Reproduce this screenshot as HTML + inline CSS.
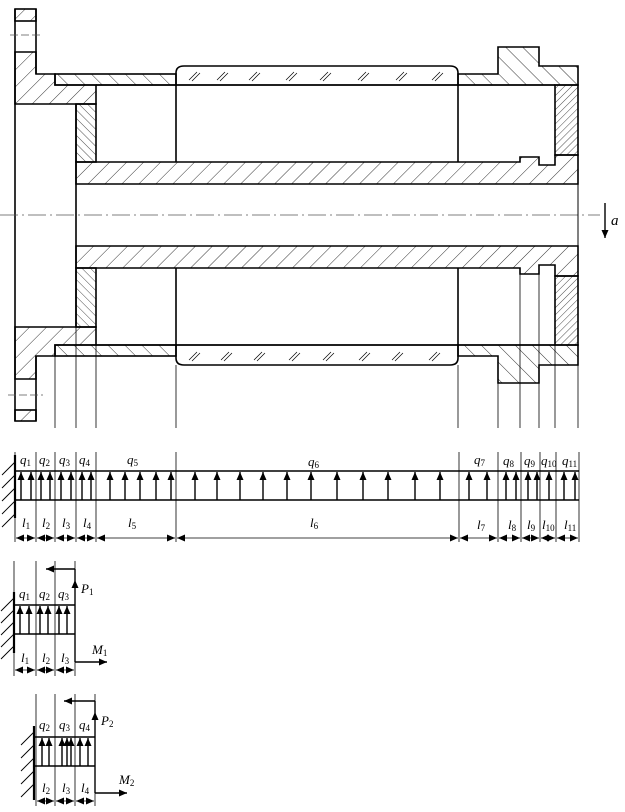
<!DOCTYPE html>
<html><head><meta charset="utf-8"><style>
html,body{margin:0;padding:0;background:#fff}
svg{display:block}
text{font-family:"Liberation Serif",serif;font-style:italic;fill:#000}
tspan.s{font-size:9px;font-style:normal}
</style></head><body>
<svg width="625" height="812" viewBox="0 0 625 812" xmlns="http://www.w3.org/2000/svg">
<defs>
<pattern id="hf" width="12" height="12" patternUnits="userSpaceOnUse" patternTransform="rotate(45)"><line x1="0" y1="0" x2="0" y2="12" stroke="#000" stroke-width="0.8"/></pattern>
<pattern id="hb" width="12" height="12" patternUnits="userSpaceOnUse" patternTransform="rotate(-45)"><line x1="0" y1="0" x2="0" y2="12" stroke="#000" stroke-width="0.8"/></pattern>
<pattern id="hbd" width="6" height="6" patternUnits="userSpaceOnUse" patternTransform="rotate(-45)"><line x1="0" y1="0" x2="0" y2="6" stroke="#000" stroke-width="0.7"/></pattern>
<pattern id="hfd" width="5" height="5" patternUnits="userSpaceOnUse" patternTransform="rotate(45)"><line x1="0" y1="0" x2="0" y2="5" stroke="#000" stroke-width="0.7"/></pattern>
<marker id="ah" markerWidth="10" markerHeight="10" refX="8" refY="4" orient="auto" markerUnits="userSpaceOnUse"><path d="M0,0.5 L8,4 L0,7.5 Z" fill="#000"/></marker>
<marker id="as" markerWidth="10" markerHeight="10" refX="0" refY="4" orient="auto" markerUnits="userSpaceOnUse"><path d="M8,0.5 L0,4 L8,7.5 Z" fill="#000"/></marker>
</defs>

<g stroke="#000" stroke-width="1.6" fill="none">
<rect x="15" y="9" width="21" height="12" fill="url(#hf)"/>
<polygon points="15,52 36,52 36,74 55,74 55,85 96,85 96,104 15,104" fill="url(#hf)"/>
<rect x="55" y="74" width="121" height="11" fill="url(#hb)"/>
<rect x="76" y="104" width="20" height="58" fill="url(#hbd)"/>
<polygon points="15,327 96,327 96,345 55,345 55,356 36,356 36,379 15,379" fill="url(#hf)"/>
<rect x="15" y="410" width="21" height="11" fill="url(#hf)"/>
<rect x="55" y="345" width="121" height="11" fill="url(#hb)"/>
<rect x="76" y="268" width="20" height="59" fill="url(#hbd)"/>
<line x1="15" y1="9" x2="15" y2="421"/>
<line x1="36" y1="9" x2="36" y2="74"/>
<line x1="36" y1="356" x2="36" y2="421"/>
<line x1="76" y1="104" x2="76" y2="327"/>
<polygon points="76,162 520,162 520,157 539,157 539,165 555,165 555,155 578,155 578,184 76,184" fill="url(#hf)"/>
<polygon points="76,246 578,246 578,276 555,276 555,265 539,265 539,274 520,274 520,268 76,268" fill="url(#hf)"/>
<polygon points="458,74 498,74 498,47 539,47 539,66 578,66 578,85 458,85" fill="url(#hb)"/>
<rect x="555" y="85" width="23" height="70" fill="url(#hfd)"/>
<polygon points="458,345 578,345 578,365 539,365 539,383 498,383 498,356 458,356" fill="url(#hb)"/>
<rect x="555" y="276" width="23" height="69" fill="url(#hfd)"/>
<path d="M176,85 L176,73 Q176,66 184,66 L450,66 Q458,66 458,73 L458,85 Z"/>
<path d="M176,345 L176,358 Q176,365 184,365 L450,365 Q458,365 458,358 L458,345 Z"/>
<line x1="176" y1="85" x2="176" y2="162"/>
<line x1="458" y1="85" x2="458" y2="162"/>
<line x1="176" y1="268" x2="176" y2="345"/>
<line x1="458" y1="268" x2="458" y2="345"/>
<line x1="96" y1="85" x2="555" y2="85"/>
<line x1="96" y1="345" x2="555" y2="345"/>
</g>
<g stroke="#000" stroke-width="0.7">
<path d="M189,80 l8,-8 M192,81 l8,-8 M217,80 l8,-8 M220,81 l8,-8 M249,80 l8,-8 M252,81 l8,-8 M286,80 l8,-8 M289,81 l8,-8 M320,80 l8,-8 M323,81 l8,-8 M358,80 l8,-8 M361,81 l8,-8 M396,80 l8,-8 M399,81 l8,-8 M432,80 l8,-8 M435,81 l8,-8"/>
<path d="M189,360 l8,-8 M192,361 l8,-8 M221,360 l8,-8 M224,361 l8,-8 M254,360 l8,-8 M257,361 l8,-8 M289,360 l8,-8 M292,361 l8,-8 M323,360 l8,-8 M326,361 l8,-8 M359,360 l8,-8 M362,361 l8,-8 M392,360 l8,-8 M395,361 l8,-8 M429,360 l8,-8 M432,361 l8,-8"/>
</g>
<g stroke="#555" stroke-width="0.8" fill="none">
<line x1="0" y1="215" x2="600" y2="215" stroke-dasharray="18,4,2,4"/>
<line x1="10" y1="35" x2="40" y2="35" stroke-dasharray="8,3"/>
<line x1="8" y1="395" x2="43" y2="395" stroke-dasharray="8,3"/>
</g>
<line x1="578" y1="184" x2="578" y2="246" stroke="#000" stroke-width="1"/>
<g stroke="#000" stroke-width="0.8">
<line x1="55" y1="356" x2="55" y2="428"/><line x1="76" y1="327" x2="76" y2="428"/><line x1="96" y1="327" x2="96" y2="428"/>
<line x1="176" y1="365" x2="176" y2="428"/><line x1="458" y1="365" x2="458" y2="428"/><line x1="498" y1="383" x2="498" y2="428"/>
<line x1="520" y1="274" x2="520" y2="428"/><line x1="539" y1="274" x2="539" y2="428"/><line x1="555" y1="345" x2="555" y2="428"/><line x1="578" y1="365" x2="578" y2="428"/>
</g>
<line x1="605" y1="203" x2="605" y2="238" stroke="#000" stroke-width="1.4" marker-end="url(#ah)"/>
<text x="611" y="225" font-size="15">a</text>

<g stroke="#000" stroke-width="0.8">
<line x1="15" y1="452" x2="15" y2="542"/><line x1="36" y1="452" x2="36" y2="542"/><line x1="55" y1="452" x2="55" y2="542"/><line x1="76" y1="452" x2="76" y2="542"/><line x1="96" y1="452" x2="96" y2="542"/><line x1="176" y1="452" x2="176" y2="542"/><line x1="459" y1="452" x2="459" y2="542"/><line x1="498" y1="452" x2="498" y2="542"/><line x1="521" y1="452" x2="521" y2="542"/><line x1="540" y1="452" x2="540" y2="542"/><line x1="556" y1="452" x2="556" y2="542"/><line x1="579" y1="452" x2="579" y2="542"/>
</g>
<line x1="15" y1="471" x2="579" y2="471" stroke="#000" stroke-width="1.6"/>
<line x1="15" y1="500" x2="579" y2="500" stroke="#000" stroke-width="1.6"/>
<line x1="15" y1="455" x2="15" y2="518" stroke="#000" stroke-width="2.2"/>
<path d="M15,462 l-13,13 M15,475 l-13,13 M15,488 l-13,13 M15,501 l-13,13 M15,514 l-13,13" stroke="#000" stroke-width="0.9"/>
<g stroke="#000" stroke-width="1.4" marker-end="url(#ah)">
<line x1="21" y1="500" x2="21" y2="472"/><line x1="31" y1="500" x2="31" y2="472"/><line x1="41" y1="500" x2="41" y2="472"/><line x1="50" y1="500" x2="50" y2="472"/><line x1="61" y1="500" x2="61" y2="472"/><line x1="71" y1="500" x2="71" y2="472"/><line x1="82" y1="500" x2="82" y2="472"/><line x1="91" y1="500" x2="91" y2="472"/><line x1="110" y1="500" x2="110" y2="472"/><line x1="125" y1="500" x2="125" y2="472"/><line x1="140" y1="500" x2="140" y2="472"/><line x1="156" y1="500" x2="156" y2="472"/><line x1="171" y1="500" x2="171" y2="472"/><line x1="195" y1="500" x2="195" y2="472"/><line x1="217" y1="500" x2="217" y2="472"/><line x1="240" y1="500" x2="240" y2="472"/><line x1="263" y1="500" x2="263" y2="472"/><line x1="287" y1="500" x2="287" y2="472"/><line x1="311" y1="500" x2="311" y2="472"/><line x1="337" y1="500" x2="337" y2="472"/><line x1="363" y1="500" x2="363" y2="472"/><line x1="388" y1="500" x2="388" y2="472"/><line x1="415" y1="500" x2="415" y2="472"/><line x1="440" y1="500" x2="440" y2="472"/><line x1="469" y1="500" x2="469" y2="472"/><line x1="487" y1="500" x2="487" y2="472"/><line x1="506" y1="500" x2="506" y2="472"/><line x1="516" y1="500" x2="516" y2="472"/><line x1="528" y1="500" x2="528" y2="472"/><line x1="537" y1="500" x2="537" y2="472"/><line x1="549" y1="500" x2="549" y2="472"/><line x1="564" y1="500" x2="564" y2="472"/><line x1="575" y1="500" x2="575" y2="472"/>
</g>
<g stroke="#000" stroke-width="0.8" marker-end="url(#ah)" marker-start="url(#as)">
<line x1="16" y1="538" x2="35" y2="538"/><line x1="37" y1="538" x2="54" y2="538"/><line x1="56" y1="538" x2="75" y2="538"/><line x1="77" y1="538" x2="95" y2="538"/><line x1="97" y1="538" x2="175" y2="538"/><line x1="177" y1="538" x2="458" y2="538"/><line x1="460" y1="538" x2="497" y2="538"/><line x1="499" y1="538" x2="520" y2="538"/><line x1="522" y1="538" x2="539" y2="538"/><line x1="541" y1="538" x2="555" y2="538"/><line x1="557" y1="538" x2="578" y2="538"/>
</g>
<g font-size="13">
<text x="20" y="464">q<tspan class="s" dy="2">1</tspan></text>
<text x="39" y="464">q<tspan class="s" dy="2">2</tspan></text>
<text x="59" y="464">q<tspan class="s" dy="2">3</tspan></text>
<text x="79" y="464">q<tspan class="s" dy="2">4</tspan></text>
<text x="127" y="464">q<tspan class="s" dy="2">5</tspan></text>
<text x="308" y="466">q<tspan class="s" dy="2">6</tspan></text>
<text x="474" y="464">q<tspan class="s" dy="2">7</tspan></text>
<text x="503" y="465">q<tspan class="s" dy="2">8</tspan></text>
<text x="524" y="465">q<tspan class="s" dy="2">9</tspan></text>
<text x="541" y="465">q<tspan class="s" dy="2">10</tspan></text>
<text x="562" y="465">q<tspan class="s" dy="2">11</tspan></text>
<text x="22" y="527">l<tspan class="s" dy="2">1</tspan></text>
<text x="42" y="527">l<tspan class="s" dy="2">2</tspan></text>
<text x="62" y="527">l<tspan class="s" dy="2">3</tspan></text>
<text x="83" y="527">l<tspan class="s" dy="2">4</tspan></text>
<text x="128" y="527">l<tspan class="s" dy="2">5</tspan></text>
<text x="310" y="527">l<tspan class="s" dy="2">6</tspan></text>
<text x="477" y="529">l<tspan class="s" dy="2">7</tspan></text>
<text x="508" y="529">l<tspan class="s" dy="2">8</tspan></text>
<text x="527" y="529">l<tspan class="s" dy="2">9</tspan></text>
<text x="542" y="529">l<tspan class="s" dy="2">10</tspan></text>
<text x="564" y="529">l<tspan class="s" dy="2">11</tspan></text>
</g>

<g stroke="#000" stroke-width="0.8">
<line x1="14" y1="561" x2="14" y2="676"/><line x1="36" y1="561" x2="36" y2="676"/><line x1="55" y1="561" x2="55" y2="676"/><line x1="75" y1="561" x2="75" y2="676"/>
</g>
<line x1="14" y1="605" x2="75" y2="605" stroke="#000" stroke-width="1.6"/>
<line x1="14" y1="634" x2="75" y2="634" stroke="#000" stroke-width="1.6"/>
<line x1="14" y1="592" x2="14" y2="653" stroke="#000" stroke-width="2.2"/>
<path d="M14,598 l-13,13 M14,610 l-13,13 M14,622 l-13,13 M14,634 l-13,13 M14,646 l-13,13" stroke="#000" stroke-width="0.9"/>
<g stroke="#000" stroke-width="1.4" marker-end="url(#ah)">
<line x1="20" y1="634" x2="20" y2="606"/><line x1="29" y1="634" x2="29" y2="606"/><line x1="40" y1="634" x2="40" y2="606"/><line x1="48" y1="634" x2="48" y2="606"/><line x1="59" y1="634" x2="59" y2="606"/><line x1="67" y1="634" x2="67" y2="606"/>
<line x1="75" y1="605" x2="75" y2="580"/>
<line x1="75" y1="569" x2="46" y2="569"/>
<line x1="75" y1="662" x2="107" y2="662"/>
</g>
<line x1="75" y1="580" x2="75" y2="569" stroke="#000" stroke-width="1.4"/>
<line x1="75" y1="605" x2="75" y2="662" stroke="#000" stroke-width="1.4"/>
<g stroke="#000" stroke-width="0.8" marker-end="url(#ah)" marker-start="url(#as)">
<line x1="15" y1="670" x2="35" y2="670"/><line x1="37" y1="670" x2="54" y2="670"/><line x1="56" y1="670" x2="74" y2="670"/>
</g>
<g font-size="13">
<text x="19" y="598">q<tspan class="s" dy="2">1</tspan></text>
<text x="39" y="598">q<tspan class="s" dy="2">2</tspan></text>
<text x="58" y="598">q<tspan class="s" dy="2">3</tspan></text>
<text x="81" y="593">P<tspan class="s" dy="2">1</tspan></text>
<text x="92" y="654">M<tspan class="s" dy="2">1</tspan></text>
<text x="21" y="662">l<tspan class="s" dy="2">1</tspan></text>
<text x="42" y="662">l<tspan class="s" dy="2">2</tspan></text>
<text x="61" y="662">l<tspan class="s" dy="2">3</tspan></text>
</g>

<g stroke="#000" stroke-width="0.8">
<line x1="36" y1="694" x2="36" y2="806"/><line x1="55" y1="694" x2="55" y2="806"/><line x1="75" y1="694" x2="75" y2="806"/><line x1="95" y1="694" x2="95" y2="806"/>
</g>
<line x1="35" y1="737" x2="95" y2="737" stroke="#000" stroke-width="1.6"/>
<line x1="35" y1="766" x2="95" y2="766" stroke="#000" stroke-width="1.6"/>
<line x1="34" y1="726" x2="34" y2="800" stroke="#000" stroke-width="2.2"/>
<path d="M34,732 l-13,13 M34,745 l-13,13 M34,758 l-13,13 M34,771 l-13,13 M34,784 l-13,13" stroke="#000" stroke-width="0.9"/>
<g stroke="#000" stroke-width="1.4" marker-end="url(#ah)">
<line x1="42" y1="766" x2="42" y2="738"/><line x1="49" y1="766" x2="49" y2="738"/><line x1="62" y1="766" x2="62" y2="738"/><line x1="67" y1="766" x2="67" y2="738"/><line x1="71" y1="766" x2="71" y2="738"/><line x1="80" y1="766" x2="80" y2="738"/><line x1="88" y1="766" x2="88" y2="738"/>
<line x1="95" y1="737" x2="95" y2="712"/>
<line x1="95" y1="701" x2="64" y2="701"/>
<line x1="95" y1="793" x2="127" y2="793"/>
</g>
<line x1="95" y1="712" x2="95" y2="701" stroke="#000" stroke-width="1.4"/>
<line x1="95" y1="737" x2="95" y2="793" stroke="#000" stroke-width="1.4"/>
<g stroke="#000" stroke-width="0.8" marker-end="url(#ah)" marker-start="url(#as)">
<line x1="37" y1="801" x2="54" y2="801"/><line x1="56" y1="801" x2="74" y2="801"/><line x1="76" y1="801" x2="94" y2="801"/>
</g>
<g font-size="13">
<text x="39" y="729">q<tspan class="s" dy="2">2</tspan></text>
<text x="59" y="729">q<tspan class="s" dy="2">3</tspan></text>
<text x="79" y="729">q<tspan class="s" dy="2">4</tspan></text>
<text x="101" y="725">P<tspan class="s" dy="2">2</tspan></text>
<text x="119" y="784">M<tspan class="s" dy="2">2</tspan></text>
<text x="42" y="792">l<tspan class="s" dy="2">2</tspan></text>
<text x="62" y="792">l<tspan class="s" dy="2">3</tspan></text>
<text x="81" y="792">l<tspan class="s" dy="2">4</tspan></text>
</g>
</svg>
</body></html>
